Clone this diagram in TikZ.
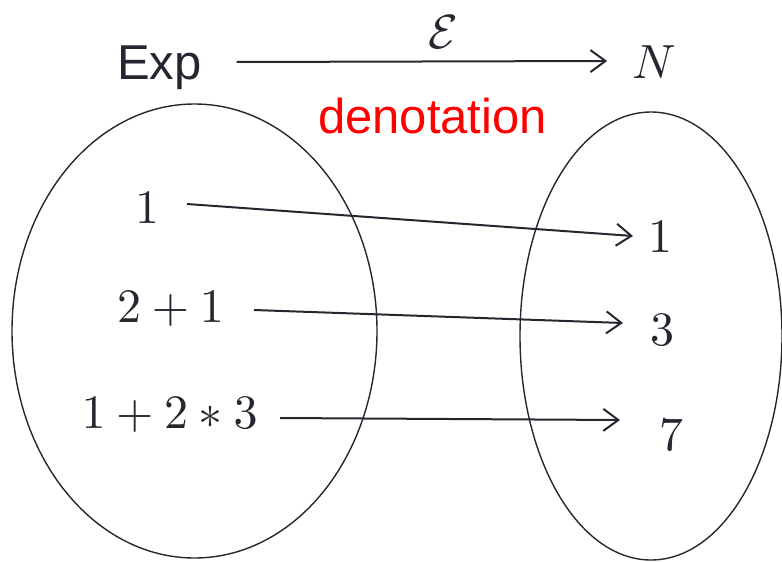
\documentclass[tikz,border=0pt]{standalone}
\usepackage[no-math]{fontspec}
\newfontfamily\arialfont{Liberation Sans}
\DeclareFontShape{OT1}{cmr}{m}{n}{<->cmr10}{}
\DeclareFontShape{OML}{cmm}{m}{it}{<->cmmi10}{}
\DeclareFontShape{OMS}{cmsy}{m}{n}{<->cmsy10}{}
\DeclareFontShape{OMX}{cmex}{m}{n}{<->cmex10}{}
\usetikzlibrary{arrows.meta}
\definecolor{ink}{RGB}{38,38,48}
\definecolor{redtext}{RGB}{255,0,0}
\begin{document}
\begin{tikzpicture}[x=1pt,y=-1pt,
  lbl/.style={inner sep=0pt,outer sep=0pt,anchor=base,text=ink,font=\fontsize{48}{52}\selectfont},
  word/.style={inner sep=0pt,outer sep=0pt,anchor=base,font=\arialfont\fontsize{49}{54}\selectfont},
  arr/.style={draw=ink,line width=2pt,-{Straight Barb[length=15pt,width=22pt,line width=2pt]}},
  setline/.style={draw=ink,line width=1.4pt}]
\useasboundingbox (0,0) rectangle (782,562);
% sets
\draw[setline] (194.5,331) ellipse [x radius=182.5, y radius=227];
\draw[setline] (651,336) ellipse [x radius=131, y radius=224];
% top row
\node[word,text=ink] (exp) at (159.5,79) {Exp};
\node[lbl] (nat) at (654,78) {$N$};
\node[lbl] (cal) at (443.5,48) {$\mathcal{E}$};
\node[word,text=redtext] (den) at (432.5,133) {denotation};
% expressions
\node[lbl] (l1) at (147,223) {$1$};
\node[lbl] (l2) at (170.5,322) {$2+1$};
\node[lbl] (l3) at (169.5,428) {$1+2*3$};
% values
\node[lbl] (r1) at (660,252) {$1$};
\node[lbl] (r3) at (662,345) {$3$};
\node[lbl] (r7) at (671,450) {$7$};
% arrows
\draw[arr] ([xshift=35pt,yshift=17pt]exp.base east) -- ([xshift=-25pt,yshift=17pt]nat.base west);
\draw[arr] ([xshift=28pt,yshift=19pt]l1.base east) -- ([xshift=-15pt,yshift=16pt]r1.base west);
\draw[arr] ([xshift=30pt,yshift=12pt]l2.base east) -- ([xshift=-27pt,yshift=22pt]r3.base west);
\draw[arr] ([xshift=22.5pt,yshift=10pt]l3.base east) -- ([xshift=-39pt,yshift=30pt]r7.base west);
\end{tikzpicture}
\end{document}
